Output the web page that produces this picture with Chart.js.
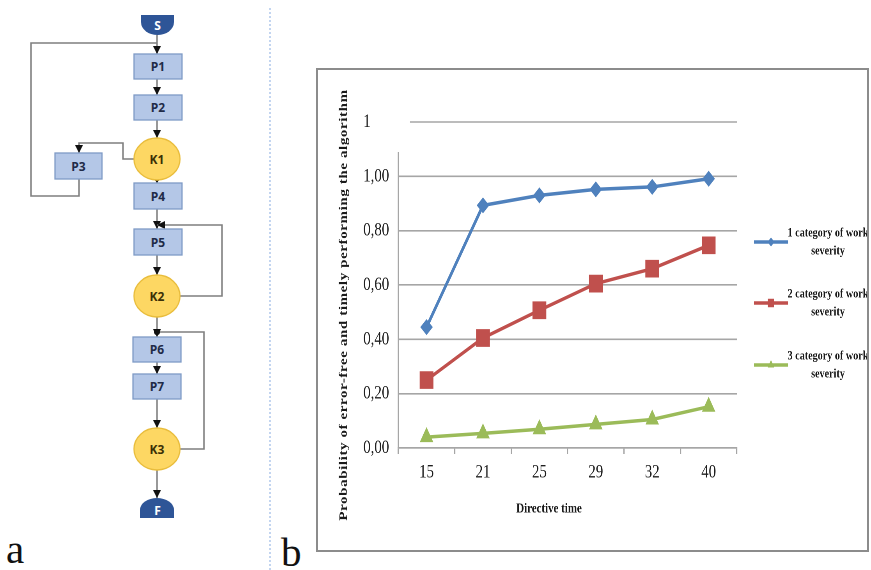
<!DOCTYPE html>
<html><head><meta charset="utf-8">
<script src="https://cdn.jsdelivr.net/npm/chart.js@4.4.0/dist/chart.umd.min.js"></script>
<style>
html,body{margin:0;padding:0;background:#fff;width:871px;height:570px;overflow:hidden;position:relative;}
#flow{position:absolute;left:0;top:0;}
#divider{position:absolute;left:269px;top:8px;width:0;height:562px;border-left:2px dotted #c3d5f0;}
#box{position:absolute;left:316px;top:68px;width:549px;height:480px;border:2px solid #8c8c8c;overflow:hidden;}
#inner{position:absolute;left:0;top:0;width:704px;height:480px;transform:scaleX(0.78);transform-origin:0 0;}
</style></head>
<body>
<svg id="flow" width="871" height="570" xmlns="http://www.w3.org/2000/svg">
<defs>
<marker id="ah" viewBox="0 0 8 8" refX="8" refY="4" markerWidth="8" markerHeight="8" markerUnits="userSpaceOnUse" orient="auto">
<path d="M0,0 L8,4 L0,8 Z" fill="#111"/></marker>
</defs>
<g fill="none" stroke="#7f7f7f" stroke-width="1.6">
<path d="M157,35 V54" marker-end="url(#ah)"/>
<path d="M79,179 V196 H31 V43 H157"/>
<path d="M157,79 V95" marker-end="url(#ah)"/>
<path d="M157,120 V138" marker-end="url(#ah)"/>
<path d="M134,159 H123 V143 H79 V153" marker-end="url(#ah)"/>
<path d="M157,180 V183" />
<path d="M157,209 V229" marker-end="url(#ah)"/>
<path d="M180,296 H222 V225 H157" marker-end="url(#ah)"/>
<path d="M157,255 V275" marker-end="url(#ah)"/>
<path d="M157,317 V337" marker-end="url(#ah)"/>
<path d="M180,449 H204 V332 H157" />
<path d="M157,362 V374" marker-end="url(#ah)"/>
<path d="M157,399 V428" marker-end="url(#ah)"/>
<path d="M157,470 V498" marker-end="url(#ah)"/>
</g>
<path d="M153,177 L161,177 L157,183 Z" fill="#111"/>
<circle cx="157" cy="332" r="3" fill="#111"/>
<g fill="#b4c7e7" stroke="#7f9bc6" stroke-width="1.3">
<rect x="134" y="54" width="48" height="25"/>
<rect x="134" y="95" width="48" height="25"/>
<rect x="55" y="153" width="47" height="26"/>
<rect x="134" y="183" width="48" height="26"/>
<rect x="134" y="229" width="48" height="26"/>
<rect x="133" y="337" width="48" height="25"/>
<rect x="133" y="374" width="48" height="25"/>
</g>
<g fill="#fdd763" stroke="#e9bd3c" stroke-width="1.3">
<ellipse cx="157" cy="159" rx="23" ry="21"/>
<ellipse cx="157" cy="296" rx="23" ry="21"/>
<ellipse cx="157" cy="449" rx="23" ry="21"/>
</g>
<g fill="#2e5597">
<path d="M141,15 H174 V22 A16.5,13 0 0 1 141,22 Z"/>
<path d="M140,518 V510 A17,12 0 0 1 174,510 V518 Z"/>
</g>
<g font-family="'Open Sans','DejaVu Sans',sans-serif" font-weight="bold" font-size="12" text-anchor="middle">
<text x="157.5" y="29.5" fill="#fff">S</text>
<text x="157.5" y="514.5" fill="#fff">F</text>
<g fill="#1f2b48">
<text x="158" y="71">P1</text>
<text x="158" y="112">P2</text>
<text x="78.5" y="170.5">P3</text>
<text x="158" y="200.5">P4</text>
<text x="158" y="246.5">P5</text>
<text x="157" y="354">P6</text>
<text x="157" y="391">P7</text>
</g>
<g fill="#3b3006">
<text x="157" y="163.5">K1</text>
<text x="157" y="300.5">K2</text>
<text x="157" y="453.5">K3</text>
</g>
</g>
<g font-family="'Liberation Serif',serif" font-size="41" fill="#111">
<text x="6" y="563">a</text>
<text x="281" y="566">b</text>
</g>
</svg>
<div id="divider"></div>
<div id="box"><div id="inner"><canvas id="c" width="704" height="480"></canvas></div></div>
<script>
const categories = ['15', '21', '25', '29', '32', '40'];
const series1 = [0.445, 0.893, 0.930, 0.952, 0.961, 0.991];
const series2 = [0.250, 0.405, 0.507, 0.605, 0.660, 0.746];
const series3 = [0.040, 0.054, 0.069, 0.087, 0.105, 0.152];
const seriesNames = ['1 category of work severity', '2 category of work severity', '3 category of work severity'];
const yTickLabels = ['0,00', '0,20', '0,40', '0,60', '0,80', '1,00', '1'];
const xTitle = 'Directive time';
const yTitle = 'Probability of error-free and timely performing the algorithm';

const SX = 0.78;
const cx = xs => (xs - 318) / SX;
const cy = ys => ys - 70;
const GRID = '#a6a6a6';
const SERIF = "'Liberation Serif', 'Times New Roman', serif";

const extras = {
  id: 'extras',
  beforeDatasetsDraw(chart) {
    const ctx = chart.ctx, a = chart.chartArea, y = chart.scales.y;
    ctx.save();
    ctx.strokeStyle = GRID; ctx.lineWidth = 1.6;
    const yTop = y.getPixelForValue(1.2);
    ctx.beginPath(); ctx.moveTo(cx(410), yTop); ctx.lineTo(a.right, yTop); ctx.stroke();
    ctx.beginPath(); ctx.moveTo(a.left, cy(152)); ctx.lineTo(a.left, a.bottom); ctx.stroke();
    ctx.restore();
  },
  afterDraw(chart) {
    const ctx = chart.ctx;
    ctx.save();
    ctx.fillStyle = '#1a1a1a';
    ctx.font = "bold 14px " + SERIF;
    ctx.textAlign = 'center'; ctx.textBaseline = 'middle';
    ctx.fillText(xTitle, cx(549), cy(509));
    ctx.save();
    ctx.translate(cx(344), cy(305));
    ctx.rotate(-Math.PI / 2);
    ctx.font = "bold 15px " + SERIF;
    if ('letterSpacing' in ctx) ctx.letterSpacing = '0.6px';
    ctx.fillText(yTitle, 0, 0);
    ctx.restore();
    const lineYs = [cy(242), cy(303), cy(365)];
    chart.data.datasets.slice().reverse().forEach((ds, i) => {
      const ly = lineYs[i];
      ctx.strokeStyle = ds.borderColor; ctx.lineWidth = 3.5;
      ctx.beginPath(); ctx.moveTo(cx(754), ly); ctx.lineTo(cx(788), ly); ctx.stroke();
      ctx.fillStyle = ds.borderColor;
      Chart.helpers.drawPoint(ctx, {pointStyle: ds.pointStyle, radius: ds.legendRadius, rotation: 0, borderWidth: 0}, (cx(754) + cx(788)) / 2, ly);
      ctx.fillStyle = '#1a1a1a';
      ctx.font = "bold 13px " + SERIF;
      const k = ds.label.lastIndexOf(' ');
      ctx.fillText(ds.label.slice(0, k), cx(828), ly - 9);
      ctx.fillText(ds.label.slice(k + 1), cx(828), ly + 9);
    });
    ctx.restore();
  }
};

new Chart(document.getElementById('c'), {
  type: 'line',
  data: {
    labels: categories,
    datasets: [
      {label: seriesNames[2], data: series3, borderColor: '#9bbb59', backgroundColor: '#9bbb59', pointStyle: 'triangle', pointRadius: 10, legendRadius: 5, borderWidth: 3.5, pointBorderWidth: 0},
      {label: seriesNames[1], data: series2, borderColor: '#c0504d', backgroundColor: '#c0504d', pointStyle: 'rect', pointRadius: 12.5, legendRadius: 6, borderWidth: 3.5, pointBorderWidth: 0},
      {label: seriesNames[0], data: series1, borderColor: '#4f81bd', backgroundColor: '#4f81bd', pointStyle: 'rectRot', pointRadius: 8, legendRadius: 4.5, borderWidth: 3.5, pointBorderWidth: 0}
    ]
  },
  options: {
    responsive: false,
    animation: false,
    devicePixelRatio: 2,
    layout: {padding: {left: 58, top: 52, right: 167, bottom: 0}},
    plugins: {legend: {display: false}, tooltip: {enabled: false}},
    elements: {line: {tension: 0}},
    scales: {
      x: {
        offset: true,
        grid: {offset: true, drawOnChartArea: false, drawTicks: true, tickLength: 6, color: GRID, lineWidth: 1.6},
        border: {display: true, color: GRID, width: 1.6},
        ticks: {font: {family: SERIF, size: 19}, color: '#1f1f1f', padding: 7, maxRotation: 0},
        afterFit: s => { s.height = 102; }
      },
      y: {
        min: 0, max: 1.2,
        grid: {drawTicks: false, lineWidth: 1.6, color: c => (c.tick && c.tick.value > 1.1) ? 'transparent' : GRID},
        border: {display: false},
        ticks: {stepSize: 0.2, font: {family: SERIF, size: 19}, color: '#1f1f1f', crossAlign: 'far',
          callback: (v, i) => yTickLabels[i]},
        afterFit: s => { s.width = 45; }
      }
    }
  },
  plugins: [extras]
});
</script>
</body></html>
